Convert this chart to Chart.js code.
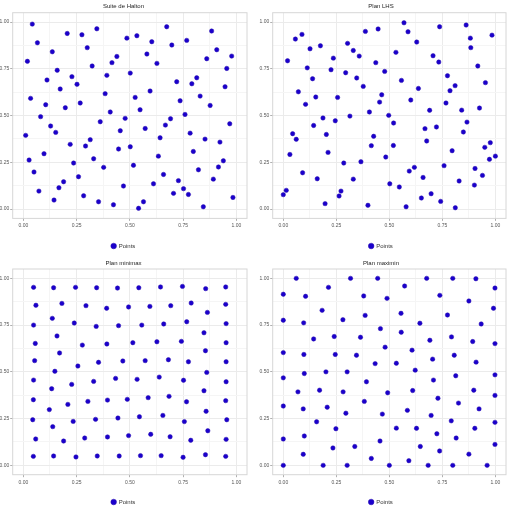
<!DOCTYPE html>
<html>
<head>
<meta charset="utf-8">
<script src="https://cdn.jsdelivr.net/npm/chart.js@4"></script>
<style>
body { margin: 0; background: #fff; }
.panel { position: absolute; }
</style>
</head>
<body>
<div class="panel" style="left:0;top:0"><canvas id="c1" width="256" height="254"></canvas></div>
<div class="panel" style="left:256px;top:0"><canvas id="c2" width="257" height="254"></canvas></div>
<div class="panel" style="left:0;top:254px"><canvas id="c3" width="256" height="254"></canvas></div>
<div class="panel" style="left:256px;top:254px"><canvas id="c4" width="257" height="254"></canvas></div>
<script>
const titles = ['Suite de Halton', 'Plan LHS', 'Plan minimax', 'Plan maximin'];
const seriesName = 'Points';
const tickValues = [0, 0.25, 0.5, 0.75, 1];
const tickLabels = ['0.00', '0.25', '0.50', '0.75', '1.00'];
const gridValues = [0, 0.125, 0.25, 0.375, 0.5, 0.625, 0.75, 0.875, 1];

const haltonX = [0.042,0.206,0.275,0.345,0.066,0.300,0.136,0.019,0.323,0.159,0.228,0.111,0.252,0.173,0.034,0.267,0.105,0.197,0.081,0.128,
  0.152,0.011,0.220,0.314,0.292,0.097,0.330,0.027,0.236,0.050,0.259,0.189,0.167,0.073,0.283,0.144,0.353,0.423,0.377,0.447,
  0.361,0.408,0.384,0.392,0.416,0.439,0.486,0.533,0.502,0.455,0.478,0.502,0.517,0.470,0.541,0.564,0.525,0.548,0.572,0.580,
  0.603,0.595,0.627,0.673,0.697,0.642,0.634,0.667,0.691,0.658,0.611,0.705,0.728,0.752,0.775,0.720,0.736,0.759,0.767,0.791,
  0.814,0.783,0.798,0.830,0.822,0.853,0.845,0.861,0.877,0.884,0.908,0.892,0.916,0.923,0.939,0.947,0.955,0.969,0.978,0.984];
const haltonY = [0.989,0.939,0.932,0.964,0.889,0.863,0.841,0.790,0.765,0.742,0.708,0.690,0.667,0.642,0.592,0.567,0.558,0.542,0.494,0.444,
  0.410,0.394,0.346,0.371,0.337,0.296,0.269,0.262,0.246,0.198,0.173,0.146,0.114,0.096,0.071,0.048,0.039,0.023,0.223,0.321,
  0.467,0.519,0.617,0.715,0.783,0.816,0.914,0.927,0.727,0.419,0.485,0.333,0.234,0.123,0.004,0.039,0.597,0.531,0.431,0.829,
  0.895,0.631,0.779,0.975,0.877,0.381,0.283,0.449,0.483,0.185,0.135,0.084,0.152,0.109,0.078,0.681,0.579,0.506,0.902,0.670,
  0.702,0.406,0.308,0.604,0.210,0.374,0.012,0.804,0.554,0.952,0.852,0.160,0.225,0.358,0.258,0.654,0.752,0.456,0.818,0.062];

const lhsX = [0.569,0.737,0.862,0.088,0.057,0.447,0.387,0.588,0.882,0.984,0.629,0.303,0.175,0.126,0.330,0.884,0.531,0.358,0.706,0.020,
  0.236,0.436,0.733,0.917,0.113,0.225,0.478,0.294,0.774,0.138,0.346,0.557,0.953,0.377,0.810,0.637,0.071,0.786,0.464,0.153,
  0.256,0.601,0.454,0.767,0.105,0.925,0.841,0.690,0.406,0.497,0.314,0.187,0.245,0.866,0.520,0.143,0.722,0.668,0.849,0.044,
  0.203,0.426,0.061,0.676,0.415,0.519,0.950,0.976,0.796,0.211,0.031,0.483,1.000,0.972,0.285,0.366,0.758,0.618,0.904,0.594,
  0.091,0.939,0.659,0.160,0.330,0.829,0.901,0.502,0.547,0.014,0.272,0.000,0.697,0.263,0.651,0.742,0.197,0.399,0.579,0.811];
const lhsY = [0.996,0.975,0.984,0.934,0.909,0.963,0.950,0.948,0.914,0.930,0.893,0.886,0.873,0.857,0.848,0.863,0.838,0.818,0.820,0.793,
  0.807,0.783,0.786,0.765,0.755,0.745,0.736,0.729,0.713,0.697,0.701,0.688,0.676,0.656,0.660,0.645,0.627,0.633,0.611,0.599,
  0.597,0.583,0.572,0.567,0.560,0.540,0.529,0.528,0.519,0.501,0.497,0.487,0.472,0.465,0.460,0.447,0.439,0.430,0.412,0.403,
  0.399,0.389,0.373,0.364,0.339,0.340,0.330,0.355,0.312,0.303,0.292,0.278,0.283,0.266,0.246,0.253,0.232,0.223,0.217,0.203,
  0.194,0.180,0.169,0.162,0.160,0.150,0.128,0.135,0.118,0.100,0.096,0.077,0.082,0.070,0.059,0.041,0.029,0.020,0.012,0.007];

const minimaxX = [0.048,0.142,0.245,0.344,0.442,0.542,0.644,0.747,0.856,0.950,
  0.059,0.181,0.294,0.391,0.494,0.594,0.692,0.788,0.864,0.950,
  0.048,0.136,0.239,0.342,0.447,0.556,0.659,0.767,0.848,0.952,
  0.056,0.158,0.277,0.392,0.514,0.627,0.742,0.855,0.952,
  0.053,0.170,0.256,0.353,0.467,0.572,0.681,0.775,0.861,0.952,
  0.048,0.148,0.227,0.330,0.433,0.534,0.638,0.752,0.848,0.952,
  0.047,0.133,0.209,0.303,0.395,0.488,0.586,0.684,0.766,0.858,0.950,
  0.044,0.122,0.234,0.339,0.444,0.545,0.655,0.756,0.955,0.138,0.866,
  0.058,0.189,0.288,0.395,0.494,0.598,0.689,0.786,0.952,
  0.047,0.142,0.247,0.347,0.450,0.550,0.647,0.750,0.855,0.950];
const minimaxY = [0.952,0.950,0.952,0.950,0.948,0.950,0.954,0.957,0.945,0.954,
  0.856,0.866,0.854,0.840,0.847,0.850,0.854,0.868,0.818,0.861,
  0.750,0.786,0.761,0.743,0.747,0.750,0.756,0.768,0.709,0.758,
  0.652,0.692,0.643,0.649,0.656,0.661,0.663,0.613,0.656,
  0.560,0.601,0.531,0.551,0.558,0.560,0.565,0.554,0.497,0.554,
  0.456,0.503,0.433,0.449,0.465,0.460,0.472,0.455,0.399,0.447,
  0.351,0.410,0.326,0.342,0.349,0.353,0.362,0.369,0.340,0.289,0.346,
  0.244,0.298,0.235,0.246,0.253,0.260,0.267,0.234,0.244,0.207,0.185,
  0.141,0.130,0.146,0.152,0.159,0.166,0.153,0.134,0.139,
  0.048,0.050,0.045,0.050,0.050,0.052,0.052,0.043,0.057,0.048];

const maximinX = [0.061,0.317,0.445,0.676,0.799,0.908,0.213,0.572,0.998,0.000,0.105,0.379,0.489,0.738,0.875,0.183,0.991,0.555,0.386,0.774,
  0.000,0.096,0.281,0.644,0.933,0.458,0.556,0.240,0.364,0.793,0.143,0.691,0.893,0.998,0.480,0.607,0.000,0.097,0.245,0.345,
  0.806,0.704,0.433,0.533,0.909,0.201,0.301,0.099,0.622,0.813,0.998,0.000,0.708,0.392,0.069,0.171,0.282,0.492,0.610,0.898,
  0.998,0.729,0.382,0.826,0.000,0.094,0.207,0.295,0.585,0.923,0.467,0.697,0.157,0.792,0.998,0.248,0.533,0.628,0.903,0.724,
  0.099,0.815,0.000,0.456,0.234,0.337,0.646,0.998,0.094,0.737,0.875,0.415,0.592,0.000,0.188,0.301,0.500,0.683,0.799,0.961];
const maximinY = [1.000,1.000,1.000,1.000,1.000,0.998,0.952,0.959,0.948,0.915,0.904,0.906,0.893,0.909,0.879,0.829,0.840,0.813,0.802,0.804,
  0.776,0.762,0.779,0.760,0.756,0.731,0.712,0.689,0.685,0.687,0.676,0.669,0.662,0.651,0.632,0.616,0.603,0.593,0.593,0.589,
  0.589,0.568,0.544,0.546,0.552,0.500,0.500,0.491,0.509,0.479,0.484,0.468,0.456,0.447,0.393,0.402,0.393,0.388,0.400,0.402,
  0.374,0.359,0.342,0.333,0.317,0.302,0.311,0.279,0.294,0.302,0.274,0.267,0.233,0.238,0.230,0.196,0.199,0.198,0.198,0.169,
  0.157,0.146,0.141,0.130,0.093,0.101,0.101,0.112,0.059,0.077,0.060,0.037,0.025,0.000,0.000,0.000,0.000,0.000,0.000,0.000];

const framePlugin = {
  id: 'frame',
  beforeDatasetsDraw(chart) {
    const a = chart.chartArea;
    const ctx = chart.ctx;
    ctx.save();
    ctx.strokeStyle = '#d6d6d6';
    ctx.lineWidth = 1;
    ctx.strokeRect(a.left, a.top, a.right - a.left, a.bottom - a.top);
    ctx.restore();
  }
};

function makeAxis(fitSize, isX) {
  return {
    type: 'linear',
    min: -0.05,
    max: 1.05,
    afterBuildTicks: (scale) => { scale.ticks = gridValues.map(v => ({ value: v })); },
    afterFit: (scale) => { if (isX) scale.height = fitSize; else scale.width = fitSize; },
    border: { display: false },
    grid: {
      color: (c) => tickValues.includes(c.tick.value) ? '#ebebeb' : '#f5f5f5',
      tickColor: (c) => tickValues.includes(c.tick.value) ? '#b0b0b0' : 'rgba(0,0,0,0)',
      tickLength: 2.5,
      lineWidth: 1
    },
    ticks: {
      autoSkip: false,
      maxRotation: 0,
      padding: isX ? 2 : 1,
      color: '#555',
      font: { family: 'Liberation Sans', size: 5 },
      callback: (v) => {
        const i = tickValues.indexOf(v);
        return i >= 0 ? tickLabels[i] : '';
      }
    }
  };
}

function drawPanel(id, title, xs, ys, p) {
  const points = xs.map((x, i) => ({ x: x, y: ys[i] }));
  new Chart(document.getElementById(id), {
    type: 'scatter',
    data: {
      datasets: [{
        label: seriesName,
        data: points,
        pointRadius: 2.2,
        pointBackgroundColor: '#1a00cc',
        pointBorderColor: '#2a10b0',
        pointBorderWidth: 0.5
      }]
    },
    options: {
      responsive: false,
      animation: false,
      layout: { padding: { top: 0, right: p.right, bottom: p.bottom, left: 0 } },
      scales: {
        x: makeAxis(p.xh, true),
        y: makeAxis(p.left, false)
      },
      plugins: {
        title: {
          display: true,
          text: title,
          color: '#222',
          font: { family: 'Liberation Sans', size: 6, weight: 'normal', lineHeight: 1.2 },
          padding: { top: p.tt, bottom: p.tb }
        },
        legend: {
          position: 'bottom',
          labels: {
            usePointStyle: true,
            pointStyle: 'circle',
            boxWidth: 4,
            boxHeight: 4,
            padding: 2,
            color: '#333',
            font: { family: 'Liberation Sans', size: 6 }
          }
        },
        tooltip: { enabled: false }
      }
    },
    plugins: [framePlugin]
  });
}

drawPanel('c1', titles[0], haltonX, haltonY, { left: 12.7, right: 9, tt: 3, tb: 2.5, xh: 22.6, bottom: -5 });
drawPanel('c2', titles[1], lhsX, lhsY, { left: 16.7, right: 7, tt: 3, tb: 2.5, xh: 22.6, bottom: -5 });
drawPanel('c3', titles[2], minimaxX, minimaxY, { left: 12.7, right: 9, tt: 5.7, tb: 2.1, xh: 22.3, bottom: -7 });
drawPanel('c4', titles[3], maximinX, maximinY, { left: 16.7, right: 7, tt: 5.7, tb: 2.1, xh: 22.3, bottom: -7 });
</script>
</body>
</html>
